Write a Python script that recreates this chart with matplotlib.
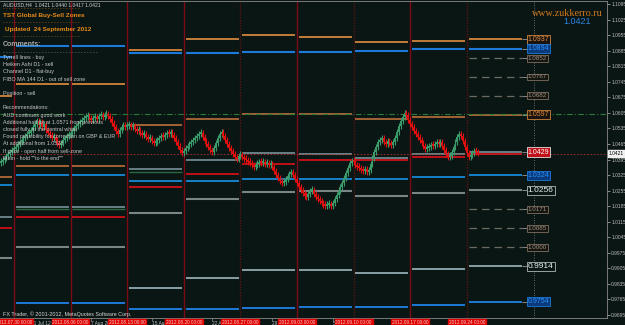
import matplotlib
matplotlib.use("Agg")
import matplotlib.pyplot as plt
import numpy as np

# ---- AUDUSD H4 closes, one list per week (week starts on the Monday label) ----
closes_prev = [1.0384, 1.0393, 1.0402, 1.0411, 1.0420, 1.0429, 1.0438]
closes_0730 = [1.0443, 1.0452, 1.0465, 1.0474, 1.0483, 1.0492, 1.0501, 1.0510, 1.0515, 1.0528,
               1.0542, 1.0555, 1.0569, 1.0551, 1.0564, 1.0542, 1.0555, 1.0528, 1.0515, 1.0506,
               1.0492, 1.0497, 1.0483, 1.0470, 1.0461, 1.0470, 1.0483, 1.0492, 1.0501, 1.0506]
closes_0806 = [1.0510, 1.0524, 1.0537, 1.0546, 1.0555, 1.0564, 1.0573, 1.0582, 1.0587, 1.0591,
               1.0582, 1.0573, 1.0582, 1.0587, 1.0578, 1.0591, 1.0596, 1.0587, 1.0596, 1.0600,
               1.0591, 1.0578, 1.0560, 1.0542, 1.0524, 1.0510, 1.0528, 1.0542, 1.0551, 1.0542]
closes_0813 = [1.0546, 1.0551, 1.0542, 1.0546, 1.0533, 1.0524, 1.0528, 1.0515, 1.0506, 1.0510,
               1.0497, 1.0488, 1.0492, 1.0479, 1.0470, 1.0474, 1.0483, 1.0492, 1.0501, 1.0497,
               1.0506, 1.0515, 1.0510, 1.0519, 1.0506, 1.0492, 1.0474, 1.0456, 1.0438, 1.0425]
closes_0820 = [1.0434, 1.0447, 1.0456, 1.0465, 1.0474, 1.0483, 1.0492, 1.0501, 1.0510, 1.0515,
               1.0497, 1.0479, 1.0465, 1.0452, 1.0438, 1.0429, 1.0447, 1.0470, 1.0492, 1.0510,
               1.0519, 1.0501, 1.0483, 1.0465, 1.0447, 1.0434, 1.0420, 1.0407, 1.0398, 1.0411]
closes_0827 = [1.0411, 1.0407, 1.0398, 1.0393, 1.0384, 1.0380, 1.0371, 1.0362, 1.0371, 1.0375,
               1.0384, 1.0380, 1.0384, 1.0375, 1.0380, 1.0371, 1.0375, 1.0362, 1.0344, 1.0326,
               1.0312, 1.0299, 1.0290, 1.0294, 1.0308, 1.0321, 1.0330, 1.0339, 1.0326, 1.0308]
closes_0903 = [1.0290, 1.0272, 1.0258, 1.0245, 1.0231, 1.0227, 1.0240, 1.0254, 1.0258, 1.0240,
               1.0227, 1.0218, 1.0209, 1.0200, 1.0191, 1.0186, 1.0191, 1.0195, 1.0186, 1.0200,
               1.0218, 1.0236, 1.0254, 1.0272, 1.0290, 1.0312, 1.0335, 1.0357, 1.0380, 1.0389]
closes_0910 = [1.0384, 1.0371, 1.0362, 1.0357, 1.0348, 1.0344, 1.0353, 1.0339, 1.0348, 1.0375,
               1.0402, 1.0429, 1.0452, 1.0474, 1.0483, 1.0492, 1.0474, 1.0465, 1.0479, 1.0470,
               1.0461, 1.0474, 1.0492, 1.0519, 1.0546, 1.0569, 1.0587, 1.0605, 1.0596, 1.0573]
closes_0917 = [1.0555, 1.0542, 1.0524, 1.0510, 1.0497, 1.0483, 1.0470, 1.0456, 1.0443, 1.0447,
               1.0452, 1.0461, 1.0456, 1.0465, 1.0474, 1.0465, 1.0474, 1.0456, 1.0438, 1.0420,
               1.0407, 1.0411, 1.0429, 1.0452, 1.0474, 1.0497, 1.0510, 1.0501, 1.0479, 1.0452]
closes_0924 = [1.0425, 1.0407, 1.0416, 1.0425, 1.0434, 1.0429, 1.0421]

week_labels = ["2012.07.30 00:00", "2012.08.06 00:00", "2012.08.13 00:00", "2012.08.20 00:00",
               "2012.08.27 00:00", "2012.09.03 00:00", "2012.09.10 00:00", "2012.09.17 00:00",
               "2012.09.24 00:00"]
mid_labels = ["31 Jul 12:00", "7 Aug 20:00", "15 Aug 04:00", "22 Aug 12:00",
              "29 Aug 20:00", "5 Sep 04:00", "12 Sep 20:00", "19 Sep 04:00"]
mid_label_bars = [9, 41, 73, 105, 137, 169, 201, 233]

# ---- weekly zone levels, index 0 = week before 07.30 ----
zone_weeks = [-1, 0, 1, 2, 3, 4, 5, 6, 7, 8]
top_orange = [1.0682, 1.0736, 1.0736, 1.0889, 1.0938, 1.0956, 1.0947, 1.0925, 1.0929, 1.0937]
top_blue   = [1.0857, 1.0907, 1.0907, 1.0875, 1.0875, 1.0880, 1.0880, 1.0884, 1.0893, 1.0894]
mid_orange = [1.0317, 1.0366, 1.0366, 1.0551, 1.0578, 1.0600, 1.0600, 1.0578, 1.0587, 1.0597]
mid_gray   = [1.0136, 1.0182, 1.0182, 1.0353, 1.0393, 1.0425, 1.0420, 1.0402, 1.0420, 1.0429]
mid_green  = [None, 1.0173, 1.0173, 1.0339, None, None, None, None, None, None]
mid_red    = [1.0087, 1.0136, 1.0136, 1.0272, 1.0330, 1.0375, 1.0393, 1.0393, 1.0407, 1.0420]
mid_blue   = [1.0281, 1.0326, 1.0326, 1.0299, 1.0299, 1.0308, 1.0308, 1.0308, 1.0317, 1.0324]
low_gray   = [0.9952, 1.0001, 1.0001, 1.0155, 1.0218, 1.0249, 1.0254, 1.0231, 1.0245, 1.0256]
bot_gray   = [None, None, None, 0.9817, 0.9862, 0.9898, 0.9898, 0.9884, 0.9902, 0.9914]
bot_blue   = [None, 0.9749, 0.9749, 0.9722, 0.9722, 0.9727, 0.9731, 0.9731, 0.9740, 0.9754]

fib_levels = [1.0852, 1.0767, 1.0682, 1.0171, 1.0085, 1.0000]
current_price = 1.0421
green_level = 1.0600

label_values = [1.0937, 1.0894, 1.0852, 1.0767, 1.0682, 1.0597, 1.0429,
                1.0324, 1.0256, 1.0171, 1.0085, 1.0000, 0.9914, 0.9754]
label_kinds = ["orange", "blue", "gray", "gray", "gray", "orange", "red",
               "blue", "white", "gray", "gray", "gray", "white", "blue"]

price_ticks = [0.9695, 0.9765, 0.9835, 0.9905, 0.9975, 1.0045, 1.0115, 1.0185, 1.0255, 1.0325,
               1.0395, 1.0465, 1.0535, 1.0605, 1.0675, 1.0745, 1.0815, 1.0885, 1.0955, 1.1025, 1.1095]

comments = ["Tyrrell lines - buy", "Heiken Ashi D1 - sell", "Channel D1 - flat-buy",
            "FIBO MA 144 D1 - out of sell zone", "", "Position - sell", "",
            "Recommendations:", "AUD continues good work",
            "Additional half lot at 1.0571 from previous", "closed fully at the central white",
            "Found possibility for correction on GBP & EUR", "At additional from 1.0528",
            "If price - open half from sell-zone", "Main - hold \"\"to the end\"\""]

BG = "#0a1614"
BARS_PER_WEEK = 30

closes = np.array(closes_prev + closes_0730 + closes_0806 + closes_0813 + closes_0820 +
                  closes_0827 + closes_0903 + closes_0910 + closes_0917 + closes_0924)
bars = np.arange(len(closes)) - len(closes_prev)
opens = np.concatenate([[closes[0] - 0.0005], closes[:-1]])

fig = plt.figure(figsize=(6.25, 3.25), dpi=100, facecolor=BG)
W, H = 625.0, 325.0
ax = fig.add_axes([0, 7 / H, 607 / W, 317 / H])
ax.set_facecolor(BG)
ax.set_xlim(-7.42, 314.3)
ax.set_ylim(0.96815, 1.1109)

# weekly separators
for k in range(len(week_labels)):
    x = k * BARS_PER_WEEK
    if k in (4, 6, 8):
        ax.axvline(x, color="#5a1410", lw=1.0, ls=(0, (1, 1)), zorder=1)
    else:
        ax.axvline(x, color="#7a0a16", lw=1.0, zorder=1)

# zone lines
roles = [(top_orange, "#d0843c", 1.3), (top_blue, "#1e7ad8", 1.5),
         (mid_orange, "#b06a38", 1.3), (mid_gray, "#6f8890", 1.3),
         (mid_green, "#2a6a40", 1.0), (mid_red, "#c01018", 1.4),
         (mid_blue, "#1a8ad8", 1.3), (low_gray, "#7a8686", 1.5),
         (bot_gray, "#a8c4cc", 1.1), (bot_blue, "#1e7ad8", 1.4)]
for vals, col, lw in roles:
    for wk, v in zip(zone_weeks, vals):
        if v is None:
            continue
        x0 = wk * BARS_PER_WEEK + 1
        x1 = x0 + BARS_PER_WEEK - 2 if wk < 8 else 269.2
        ax.hlines(v, x0, x1, color=col, lw=lw, zorder=2)

for v in fib_levels:
    ax.hlines(v, 241, 269.2, color="#6a6a62", lw=0.9, ls=(0, (6, 4)), zorder=2)

ax.axhline(green_level, color="#2a7a3a", lw=0.8, ls=(0, (5, 2, 1, 2)), zorder=2)
ax.axhline(current_price, color="#b03030", lw=0.6, ls=(0, (2, 2)), zorder=2)
ax.axvline(275.6, color="#8a8a8a", lw=0.6, ls=(0, (1, 2)), zorder=1)

# candles
up = closes >= opens
body_lo = np.minimum(opens, closes)
body_h = np.maximum(np.abs(closes - opens), 0.0009)
colors = np.where(up, "#3a9a6a", "#e01010")
ax.vlines(bars, body_lo - 0.0012, body_lo + body_h + 0.0012, color=colors, lw=0.8, zorder=3)
ax.bar(bars, body_h, bottom=body_lo, width=1.0, color=colors, zorder=4, linewidth=0)

# level labels on the current week
styles = {"orange": ("#1a1410", "#d0843c", "#e08a3a", 5),
          "blue": ("#0a3a7a", "#1e7ad8", "#2a90ff", 5),
          "gray": ("#141410", "#807060", "#a09080", 4.5),
          "red": ("#c01018", "#e0e0e0", "#ffffff", 5),
          "white": ("#0a1614", "#b0b8b8", "#e8f0f0", 6)}
for v, kind in zip(label_values, label_kinds):
    fc, ec, tc, fs = styles[kind]
    ax.hlines(v, 269.2, 271.9, color="#9a9a9a", lw=0.6, zorder=5)
    ax.text(272.3, v, f"{v:.4f}", color=tc, fontsize=fs, va="center", ha="left",
            family=["Liberation Sans", "DejaVu Sans"], zorder=6,
            bbox=dict(boxstyle="square,pad=0.15", fc=fc, ec=ec, lw=0.6))

# axes look
ax.spines["left"].set_visible(False)
for s in ["right", "bottom", "top"]:
    ax.spines[s].set_color("#8a8a8a")
    ax.spines[s].set_linewidth(0.6)
ax.yaxis.tick_right()
ax.set_yticks(price_ticks)
ax.set_yticklabels([f"{t:.4f}" for t in price_ticks])
ax.tick_params(axis="y", colors="#bcbcbc", labelsize=3.5, length=2, width=0.5, pad=1)
for t in ax.get_yticklabels():
    t.set_family(["Liberation Sans Narrow", "Liberation Sans", "DejaVu Sans"])
ax.set_xticks(mid_label_bars)
ax.tick_params(axis="x", colors="#8a8a8a", length=2, width=0.5, labelbottom=False)

# current price tag on the scale
ax.text(1.003, current_price, f"{current_price:.4f}", transform=ax.get_yaxis_transform(),
        fontsize=3.5, color="#000000", va="center", ha="left",
        family=["Liberation Sans Narrow", "Liberation Sans", "DejaVu Sans"],
        bbox=dict(boxstyle="square,pad=0.2", fc="#f0f0f0", ec="#f0f0f0"), zorder=7, clip_on=False)

# time labels
for b, t in zip(mid_label_bars, mid_labels):
    ax.text(b, -0.008, t, transform=ax.get_xaxis_transform(), fontsize=3.4, color="#c0c0c0",
            ha="left", va="top", family=["Liberation Sans Narrow", "Liberation Sans", "DejaVu Sans"],
            clip_on=False)
for k, t in enumerate(week_labels):
    ax.text(k * BARS_PER_WEEK, -0.006, t, transform=ax.get_xaxis_transform(), fontsize=3.4,
            color="#f4d0d0", ha="center", va="top",
            family=["Liberation Sans Narrow", "Liberation Sans", "DejaVu Sans"],
            bbox=dict(boxstyle="square,pad=0.15", fc="#e00000", ec="#e00000"), clip_on=False, zorder=8)


def ftext(x, y, s, **kw):
    fig.text(x / W, 1 - y / H, s, va="center", **kw)


narrow = ["Liberation Sans Narrow", "Liberation Sans", "DejaVu Sans"]
ftext(3, 5, "AUDUSD,H4  1.0421 1.0440 1.0417 1.0421", fontsize=3.6, color="#d0d0d0", family=narrow)
for yy in (9, 23, 37):
    ftext(3, yy, "- " * 26, fontsize=3.5, color="#d07a20", family=narrow)
ftext(3, 52, "- " * 32, fontsize=3.5, color="#9a9a9a", family=narrow)
ftext(3, 16, "TST Global Buy-Sell Zones", fontsize=4.6, color="#e88a18", weight="bold",
      family=["Liberation Sans", "DejaVu Sans"])
ftext(5, 30, "Updated  24 September 2012", fontsize=4.6, color="#e88a18", weight="bold",
      family=["Liberation Sans", "DejaVu Sans"])
ftext(3, 44, "Comments:", fontsize=5, color="#a8a8a8", weight="bold",
      family=["Liberation Sans", "DejaVu Sans"])
for i, line in enumerate(comments):
    ftext(3, 57.5 + i * 7.2, line, fontsize=3.9, color="#c8c8c8", family=narrow)
ftext(3, 314, "FX Trader, \u00a9 2001-2012, MetaQuotes Software Corp.", fontsize=3.9,
      color="#d8d8d8", family=narrow)
ftext(567, 13, "www.zukkerro.ru", fontsize=7.2, color="#d47a1e", ha="center",
      family=["Liberation Serif", "DejaVu Serif"])
ftext(577, 21, "1.0421", fontsize=6.5, color="#2a86e8", ha="center",
      family=["Liberation Sans", "DejaVu Sans"])

fig.savefig("out.png", dpi=100, facecolor=BG)
